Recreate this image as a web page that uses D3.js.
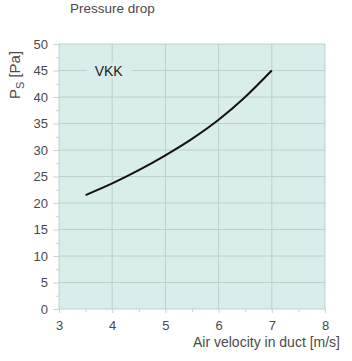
<!DOCTYPE html>
<html>
<head>
<meta charset="utf-8">
<script src="https://cdn.jsdelivr.net/npm/d3@7"></script>
<style>
  body { margin: 0; background: #fff; }
  text { font-family: "Liberation Sans", Arial, sans-serif; fill: #4a4a4a; }
</style>
</head>
<body>
<svg id="chart" width="352" height="361"></svg>
<script>
// air velocity [m/s] and pressure drop [Pa]
const velocity = [3.5, 4, 4.5, 5, 5.5, 6, 6.5, 7];
const pressure = [21.5, 23.7, 26.2, 29.0, 32.1, 35.7, 40.0, 45.0];
const xTicks = [3, 4, 5, 6, 7, 8];
const yTicks = [0, 5, 10, 15, 20, 25, 30, 35, 40, 45, 50];
const seriesName = "VKK";

const margin = { left: 59, right: 27, top: 44, bottom: 52 };
const svg = d3.select("#chart");
const width = 352 - margin.left - margin.right;
const height = 361 - margin.top - margin.bottom;

const chart = svg.append("g")
    .attr("transform", "translate(" + margin.left + "," + margin.top + ")");

const xScale = d3.scaleLinear().domain([3, 8]).range([0, width]);
const yScale = d3.scaleLinear().domain([0, 50]).range([height, 0]);

chart.append("rect")
    .attr("width", width)
    .attr("height", height)
    .attr("fill", "#d9edea");

// grid
chart.selectAll(".vgrid")
    .data(xTicks)
    .enter().append("line")
    .attr("x1", d => xScale(d)).attr("x2", d => xScale(d))
    .attr("y1", 0).attr("y2", height)
    .attr("stroke", "#b9d2ce").attr("stroke-width", 1);

chart.selectAll(".hgrid")
    .data(yTicks)
    .enter().append("line")
    .attr("x1", 0).attr("x2", width)
    .attr("y1", d => yScale(d)).attr("y2", d => yScale(d))
    .attr("stroke", "#b9d2ce").attr("stroke-width", 1);

// axes
const xAxis = chart.append("g")
    .attr("transform", "translate(0," + height + ")")
    .call(d3.axisBottom(xScale).tickValues(xTicks).tickFormat(d3.format("d")).tickSize(4).tickPadding(8));

const xMinor = chart.append("g")
    .attr("transform", "translate(0," + height + ")")
    .call(d3.axisBottom(xScale).tickValues(d3.range(3.5, 8, 1)).tickSize(3).tickFormat(""));

const yAxis = chart.append("g")
    .call(d3.axisLeft(yScale).tickValues(yTicks).tickSize(6).tickPadding(5));

const yMinor = chart.append("g")
    .call(d3.axisLeft(yScale).tickValues(d3.range(2.5, 50, 5)).tickSize(3).tickFormat(""));

[xAxis, xMinor, yAxis, yMinor].forEach(a => {
    a.select(".domain").remove();
    a.selectAll("line").attr("stroke", "#c8d6d4");
    a.selectAll("text")
        .attr("fill", "#4a4a4a")
        .style("font-family", "Liberation Sans, Arial, sans-serif")
        .style("font-size", "13px");
});

// label for the curve, with a patch over the grid line
chart.append("rect")
    .attr("x", xScale(3.52)).attr("y", yScale(45) - 8)
    .attr("width", 45).attr("height", 16)
    .attr("fill", "#d9edea");

chart.append("text")
    .attr("x", xScale(3.67))
    .attr("y", yScale(45) + 5)
    .style("font-size", "14px")
    .style("fill", "#222")
    .text(seriesName);

// curve
const line = d3.line()
    .x((d, i) => xScale(velocity[i]))
    .y(d => yScale(d))
    .curve(d3.curveMonotoneX);

chart.append("path")
    .datum(pressure)
    .attr("d", line)
    .attr("fill", "none")
    .attr("stroke", "#111")
    .attr("stroke-width", 2);

// titles
svg.append("text")
    .attr("x", 70).attr("y", 13)
    .style("font-size", "13.5px")
    .text("Pressure drop");

svg.append("text")
    .attr("x", 340).attr("y", 347)
    .attr("text-anchor", "end")
    .style("font-size", "14px")
    .text("Air velocity in duct [m/s]");

const yLabel = svg.append("text")
    .attr("transform", "translate(20,75) rotate(-90)")
    .attr("text-anchor", "middle")
    .style("font-size", "15px");
yLabel.append("tspan").text("P");
yLabel.append("tspan").attr("dy", 4).style("font-size", "11px").text("S");
yLabel.append("tspan").attr("dy", -4).text(" [Pa]");
</script>
</body>
</html>
